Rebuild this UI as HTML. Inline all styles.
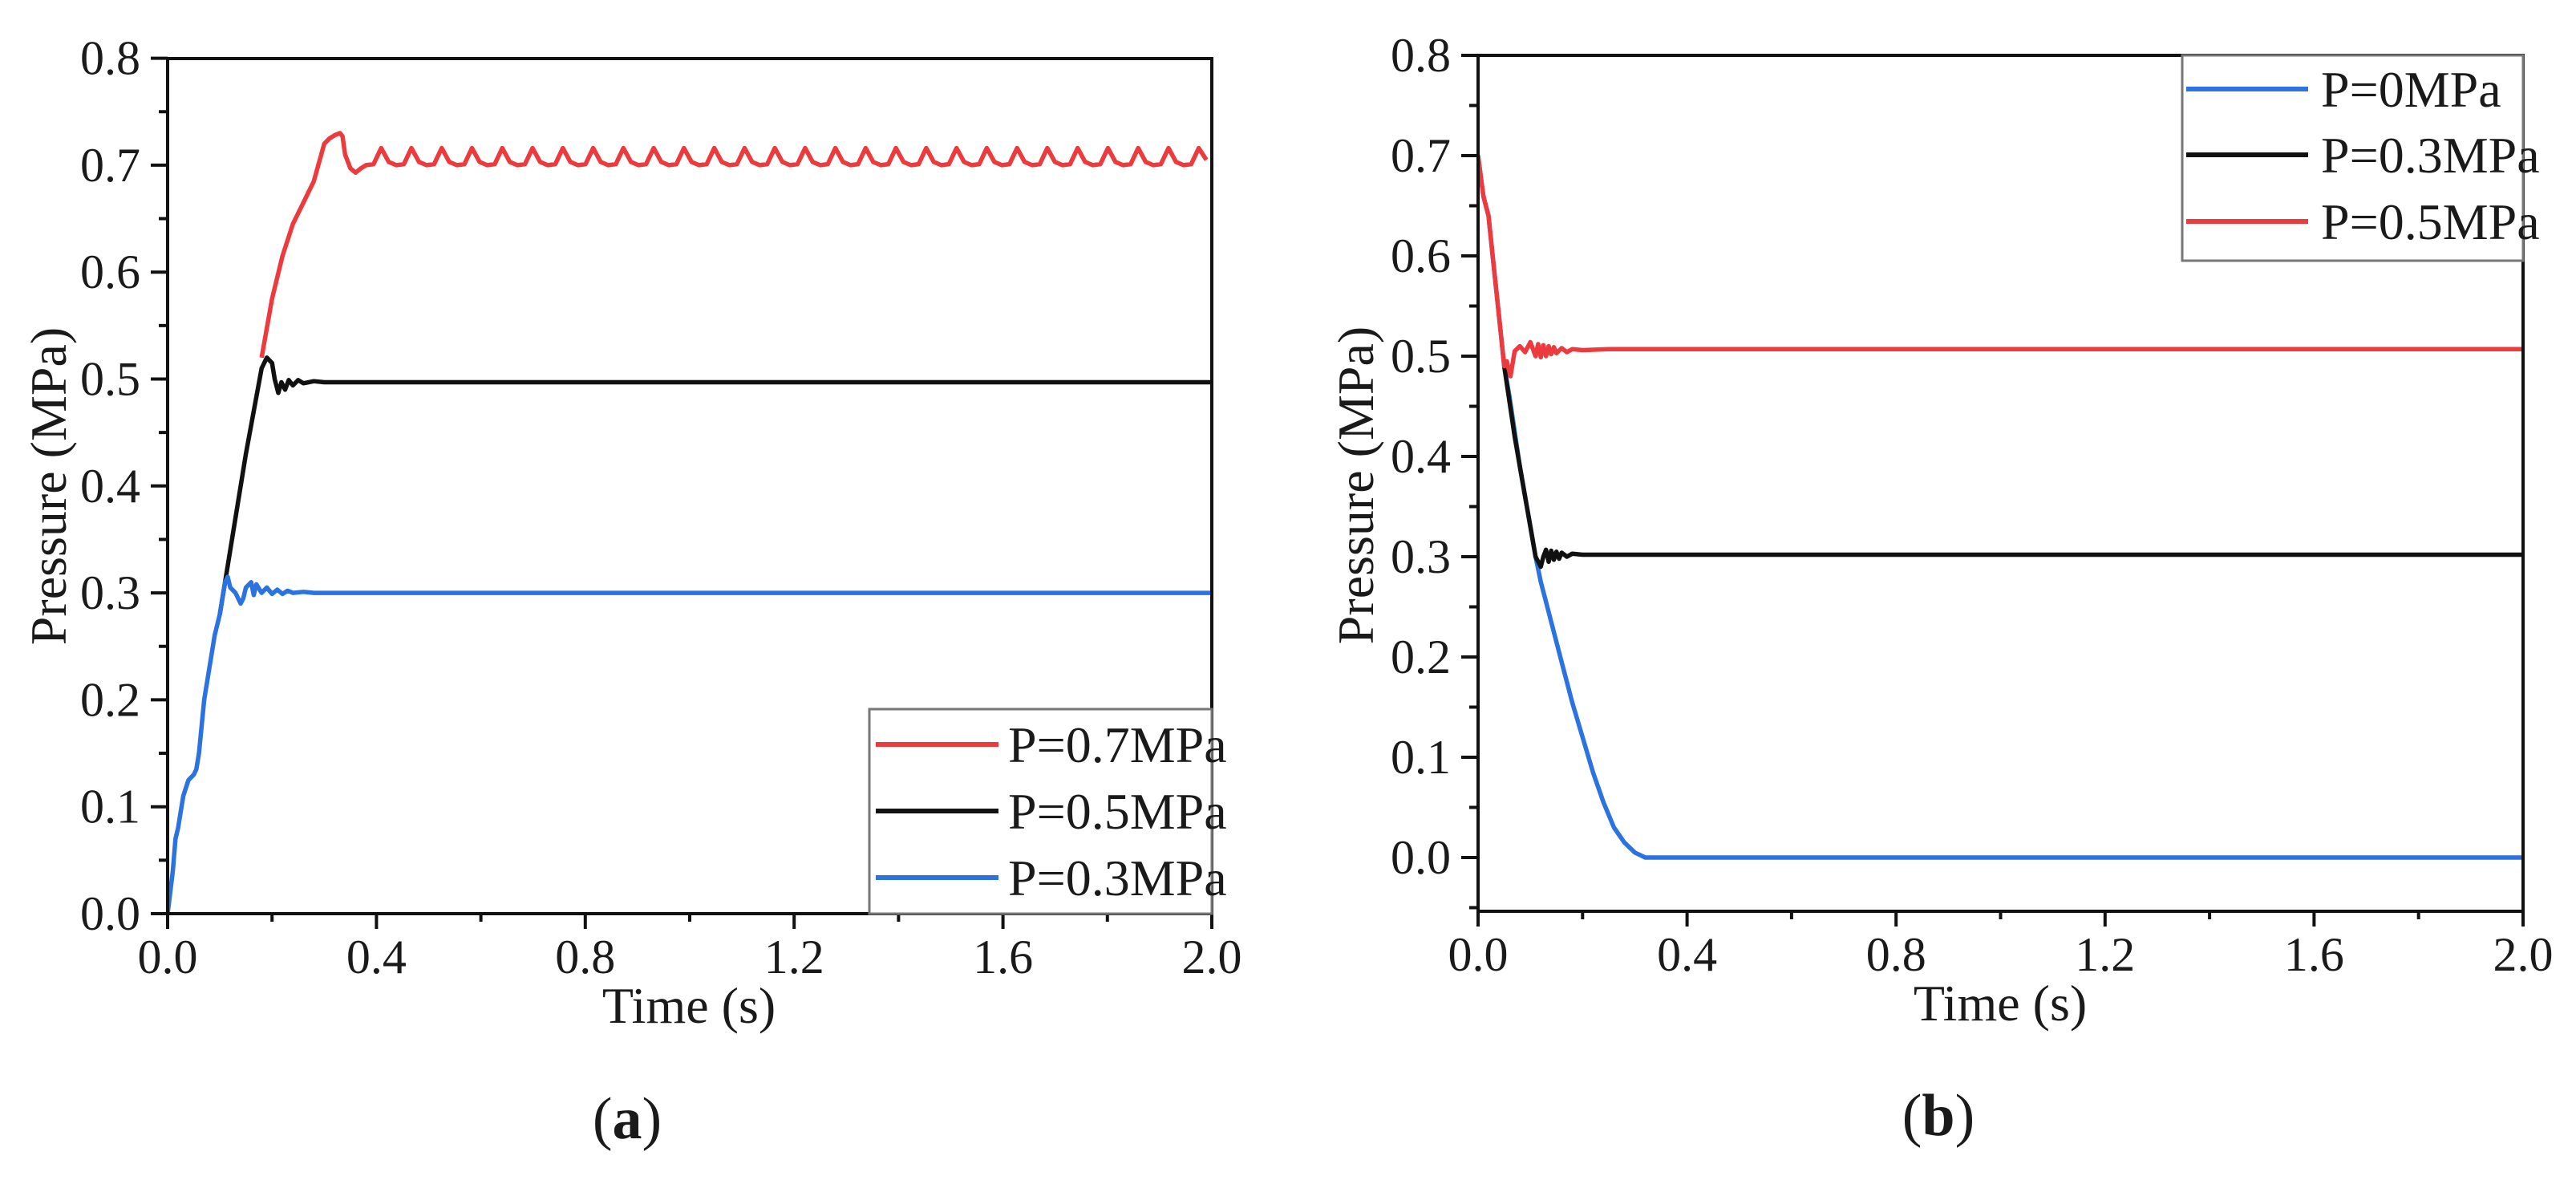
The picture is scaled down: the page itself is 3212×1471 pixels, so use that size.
<!DOCTYPE html>
<html><head><meta charset="utf-8"><style>
html,body{margin:0;padding:0;background:#fff}
svg{display:block}
text{font-family:"Liberation Serif",serif;fill:#1a1a1a}
</style></head><body>
<svg id="fig" width="3212" height="1471" viewBox="0 0 3212 1471" xmlns="http://www.w3.org/2000/svg"></svg>
<script>
// ---- data: chart (a) ----
const xTicks = [0.0, 0.4, 0.8, 1.2, 1.6, 2.0];
const xTickLabels = ["0.0", "0.4", "0.8", "1.2", "1.6", "2.0"];
const yTicksA = [0.0, 0.1, 0.2, 0.3, 0.4, 0.5, 0.6, 0.7, 0.8];
const yTickLabelsA = ["0.0", "0.1", "0.2", "0.3", "0.4", "0.5", "0.6", "0.7", "0.8"];
const yTicksB = [0.0, 0.1, 0.2, 0.3, 0.4, 0.5, 0.6, 0.7, 0.8];
const yTickLabelsB = ["0.0", "0.1", "0.2", "0.3", "0.4", "0.5", "0.6", "0.7", "0.8"];

const blueA_t = [0,0.005,0.01,0.015,0.02,0.03,0.04,0.05,0.055,0.06,0.07,0.08,0.09,0.1,0.11,0.115,0.12,0.13,0.14,0.145,0.15,0.16,0.165,0.17,0.18,0.19,0.2,0.21,0.22,0.23,0.24,0.26,0.28,0.3,0.35,2.0];
const blueA_p = [0,0.02,0.04,0.07,0.08,0.11,0.125,0.13,0.135,0.15,0.2,0.23,0.26,0.28,0.31,0.315,0.305,0.30,0.29,0.295,0.305,0.31,0.298,0.308,0.30,0.305,0.299,0.303,0.299,0.302,0.30,0.301,0.30,0.30,0.30,0.30];
const blackA_t = [0.1,0.12,0.15,0.18,0.19,0.2,0.205,0.212,0.218,0.225,0.232,0.24,0.25,0.26,0.28,0.3,0.35,2.0];
const blackA_p = [0.28,0.34,0.43,0.51,0.52,0.515,0.50,0.487,0.497,0.49,0.499,0.494,0.499,0.496,0.498,0.497,0.497,0.497];
const redA_t = [0.18,0.2,0.22,0.24,0.26,0.28,0.3,0.31,0.32,0.33,0.335,0.34,0.35,0.36,0.37];
const redA_p = [0.52,0.575,0.615,0.645,0.665,0.685,0.72,0.725,0.728,0.73,0.727,0.71,0.697,0.693,0.697];
const redTailStart = 0.38, redTailStep = 0.0145;
const redTail_p = [
0.700,0.701,0.716,0.703, 0.700,0.701,0.716,0.703, 0.700,0.701,0.716,0.703, 0.700,0.701,0.716,0.703,
0.700,0.701,0.716,0.703, 0.700,0.701,0.716,0.703, 0.700,0.701,0.716,0.703, 0.700,0.701,0.716,0.703,
0.700,0.701,0.716,0.703, 0.700,0.701,0.716,0.703, 0.700,0.701,0.716,0.703, 0.700,0.701,0.716,0.703,
0.700,0.701,0.716,0.703, 0.700,0.701,0.716,0.703, 0.700,0.701,0.716,0.703, 0.700,0.701,0.716,0.703,
0.700,0.701,0.716,0.703, 0.700,0.701,0.716,0.703, 0.700,0.701,0.716,0.703, 0.700,0.701,0.716,0.703,
0.700,0.701,0.716,0.703, 0.700,0.701,0.716,0.703, 0.700,0.701,0.716,0.703, 0.700,0.701,0.716,0.703,
0.700,0.701,0.716,0.703, 0.700,0.701,0.716,0.703, 0.700,0.701,0.716,0.703, 0.700,0.701,0.716,0.705];

// ---- data: chart (b) ----
const blueB_t = [0,0.01,0.02,0.03,0.04,0.05,0.06,0.08,0.1,0.11,0.12,0.14,0.16,0.18,0.2,0.22,0.24,0.26,0.28,0.3,0.32,0.34,2.0];
const blueB_p = [0.70,0.66,0.64,0.59,0.54,0.49,0.46,0.39,0.33,0.30,0.275,0.235,0.195,0.155,0.12,0.085,0.055,0.03,0.015,0.005,0,0,0];
const blackB_t = [0.05,0.07,0.09,0.1,0.11,0.12,0.125,0.13,0.135,0.14,0.145,0.15,0.155,0.16,0.17,0.18,0.2,0.25,0.3,2.0];
const blackB_p = [0.49,0.42,0.36,0.33,0.30,0.29,0.30,0.307,0.295,0.306,0.297,0.305,0.298,0.304,0.30,0.303,0.302,0.302,0.302,0.302];
const redB_t = [0,0.01,0.02,0.03,0.04,0.05,0.055,0.062,0.07,0.08,0.09,0.1,0.11,0.115,0.12,0.125,0.13,0.135,0.14,0.145,0.15,0.16,0.17,0.18,0.2,0.25,0.3,2.0];
const redB_p = [0.70,0.66,0.64,0.59,0.54,0.49,0.495,0.48,0.505,0.51,0.504,0.514,0.50,0.512,0.499,0.511,0.50,0.51,0.502,0.509,0.503,0.508,0.504,0.507,0.506,0.507,0.507,0.507];

const RED = "#ec3a3d", BLACK = "#111111", BLUE = "#2a73e0";
const NS = "http://www.w3.org/2000/svg";
const svg = document.getElementById("fig");

function mk(tag, attrs, parent) {
  const e = document.createElementNS(NS, tag);
  for (const k in attrs) e.setAttribute(k, attrs[k]);
  (parent || svg).appendChild(e);
  return e;
}

function drawChart(c) {
  const g = mk("g", {});
  
  
  const X = t => c.x0 + (t - c.tMin) / (c.tMax - c.tMin) * (c.x1 - c.x0);
  const Y = p => c.yZero - p * 10 * c.yPer01;
  const yMinorG = mk("g", {}, g);
  
  
  for (let i = 0; i < c.yTicks.length; i++) {
    const y = Y(c.yTicks[i]);
    mk("line", {x1: c.x0 - 21, x2: c.x0, y1: y, y2: y, stroke: "#111", "stroke-width": 4}, yMinorG);
    const lab = mk("text", {x: c.x0 - 34, y: y + 20, "text-anchor": "end", "font-size": 60}, yMinorG);
    lab.textContent = c.yTickLabels[i];
    
    
    if (i < c.yTicks.length - 1) {
      const ym = Y((c.yTicks[i] + c.yTicks[i + 1]) / 2);
      mk("line", {x1: c.x0 - 11, x2: c.x0, y1: ym, y2: ym, stroke: "#111", "stroke-width": 4}, yMinorG);
    }
  }
  if (c.extraMinor !== undefined) {
    const ym = Y(c.extraMinor);
    mk("line", {x1: c.x0 - 11, x2: c.x0, y1: ym, y2: ym, stroke: "#111", "stroke-width": 4}, yMinorG);
  }
  const xg = mk("g", {}, g);
  
  
  for (let i = 0; i < xTicks.length; i++) {
    const x = X(xTicks[i]);
    mk("line", {x1: x, x2: x, y1: c.y1, y2: c.y1 + 19, stroke: "#111", "stroke-width": 4}, xg);
    const lab = mk("text", {x: x, y: c.y1 + 74, "text-anchor": "middle", "font-size": 60}, xg);
    lab.textContent = xTickLabels[i];
    
    
    if (i < xTicks.length - 1) {
      const xm = X((xTicks[i] + xTicks[i + 1]) / 2);
      mk("line", {x1: xm, x2: xm, y1: c.y1, y2: c.y1 + 10, stroke: "#111", "stroke-width": 4}, xg);
    }
  }
  const cp = mk("clipPath", {id: "clip-" + c.name}, g);
  mk("rect", {x: c.x0, y: c.y0, width: c.x1 - c.x0, height: c.y1 - c.y0}, cp);
  for (const s of c.series) {
    const pts = [];
    for (let i = 0; i < s.t.length; i++) pts.push(X(s.t[i]).toFixed(1) + "," + Y(s.p[i]).toFixed(1));
    if (s.tail) {
      for (let i = 0; i < s.tail.length; i++) {
        const t = Math.min(s.tailStart + i * s.tailStep, c.tMax);
        pts.push(X(t).toFixed(1) + "," + Y(s.tail[i]).toFixed(1));
      }
    }
    const pl = mk("polyline", {points: pts.join(" "), fill: "none", stroke: s.color, "stroke-width": 5.5, "stroke-linejoin": "round", "clip-path": "url(#clip-" + c.name + ")"}, g);
    
    
  }
  const fr = mk("rect", {x: c.x0, y: c.y0, width: c.x1 - c.x0, height: c.y1 - c.y0, fill: "none", stroke: "#111", "stroke-width": 4}, g);
  
  
  const lg = mk("g", {}, g);
  
  
  mk("rect", {x: c.leg.x, y: c.leg.y, width: c.x1 - c.leg.x, height: c.leg.h, fill: "#fff", stroke: "#777", "stroke-width": 3}, lg);
  c.leg.items.forEach(it => {
    const e = mk("g", {}, lg);
    
    
    mk("line", {x1: c.leg.lx0, x2: c.leg.lx1, y1: it.y, y2: it.y, stroke: it.color, "stroke-width": 6}, e);
    const t = mk("text", {x: c.leg.tx, y: it.y + 22, "font-size": 64}, e);
    t.textContent = it.label;
  });
  const yt = mk("text", {x: c.ytx, y: c.yty, "text-anchor": "middle", "font-size": 64, transform: "rotate(-90 " + c.ytx + " " + c.yty + ")"}, g);
  yt.textContent = "Pressure (MPa)";
  
  
  const xt = mk("text", {x: c.xtx, y: c.xty, "text-anchor": "middle", "font-size": 64}, g);
  xt.textContent = "Time (s)";
  
  
  const cap = mk("text", {x: c.capx, y: c.capy, "text-anchor": "middle", "font-size": 74}, g);
  cap.innerHTML = '(<tspan font-weight="bold">' + c.cap + '</tspan>)';
  
  
}

drawChart({
  name: "chart-a", x0: 209, x1: 1511, y0: 73, y1: 1139, tMin: 0, tMax: 2.0,
  yZero: 1139, yPer01: 133.3, yTicks: yTicksA, yTickLabels: yTickLabelsA,
  series: [
    {id: "series-0.7mpa", t: redA_t, p: redA_p, color: RED, tail: redTail_p, tailStart: redTailStart, tailStep: redTailStep},
    {id: "series-0.5mpa", t: blackA_t, p: blackA_p, color: BLACK},
    {id: "series-0.3mpa", t: blueA_t, p: blueA_p, color: BLUE}
  ],
  leg: {x: 1084, y: 884, h: 255, lx0: 1092, lx1: 1245, tx: 1257,
    items: [{y: 928, color: RED, label: "P=0.7MPa"}, {y: 1011, color: BLACK, label: "P=0.5MPa"}, {y: 1094, color: BLUE, label: "P=0.3MPa"}]},
  ytx: 82, yty: 606, xtx: 859, xty: 1275, capx: 782, capy: 1419, cap: "a"
});

drawChart({
  name: "chart-b", x0: 1843, x1: 3146, y0: 69, y1: 1136, tMin: 0, tMax: 2.0,
  yZero: 1069, yPer01: 125, yTicks: yTicksB, yTickLabels: yTickLabelsB, extraMinor: -0.05,
  series: [
    {id: "series-0mpa", t: blueB_t, p: blueB_p, color: BLUE},
    {id: "series-0.3mpa", t: blackB_t, p: blackB_p, color: BLACK},
    {id: "series-0.5mpa", t: redB_t, p: redB_p, color: RED}
  ],
  leg: {x: 2721, y: 69, h: 256, lx0: 2726, lx1: 2878, tx: 2894,
    items: [{y: 111, color: BLUE, label: "P=0MPa"}, {y: 193, color: BLACK, label: "P=0.3MPa"}, {y: 276, color: RED, label: "P=0.5MPa"}]},
  ytx: 1712, yty: 605, xtx: 2494, xty: 1272, capx: 2417, capy: 1415, cap: "b"
});
</script>
</body></html>
